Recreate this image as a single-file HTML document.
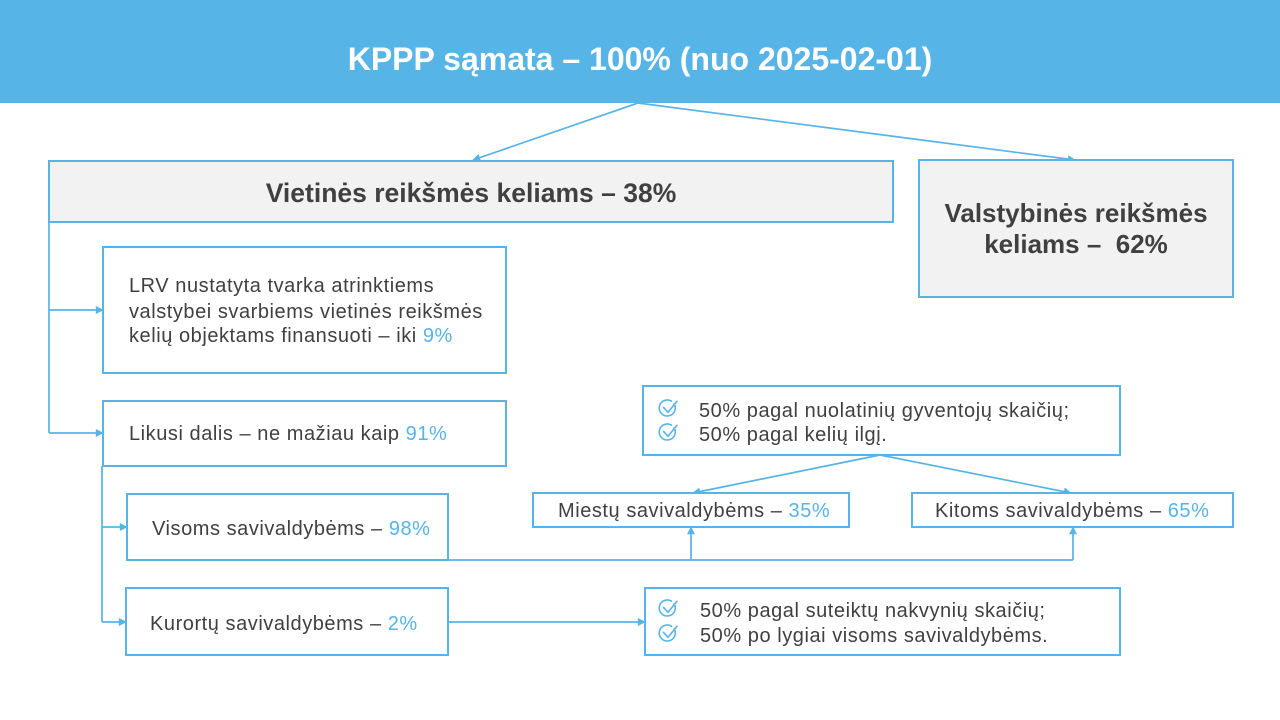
<!DOCTYPE html>
<html>
<head>
<meta charset="utf-8">
<style>
html,body{margin:0;padding:0;background:#fff;}
svg{display:block;}
.t{font-family:"Liberation Sans",Arial,sans-serif;font-size:20px;fill:#404040;letter-spacing:0.55px;}
.b{font-family:"Liberation Sans",Arial,sans-serif;font-weight:bold;fill:#404040;}
.p{fill:#56B4E6;}
</style>
</head>
<body>
<svg width="1280" height="720" viewBox="0 0 1280 720" xmlns="http://www.w3.org/2000/svg">
<defs>
<marker id="ar" viewBox="0 0 10 10" refX="9" refY="5" markerWidth="10" markerHeight="8" markerUnits="userSpaceOnUse" orient="auto">
<path d="M0,0 L10,5 L0,10 Z" fill="#56B4E6"/>
</marker>
<g id="chk" fill="none" stroke="#56B4E6" stroke-width="1.6" stroke-linecap="round" stroke-linejoin="round">
<path d="M674.2,404 A8,8 0 1 1 671.5,401.2"/>
<path d="M663.5,407.3 L668,412.3 L677,401.3"/>
</g>
</defs>
<rect x="0" y="0" width="1280" height="103" fill="#56B4E6"/>
<text x="640" y="70" text-anchor="middle" font-family="Liberation Sans, Arial, sans-serif" font-weight="bold" font-size="32" fill="#ffffff">KPPP sąmata – 100% (nuo 2025-02-01)</text>

<g fill="none" stroke="#56B4E6" stroke-width="1.7">
<line x1="638" y1="103" x2="473" y2="160" marker-end="url(#ar)"/>
<line x1="638" y1="103" x2="1075" y2="160" marker-end="url(#ar)"/>
<polyline points="49,222 49,433"/>
<line x1="49" y1="310" x2="103" y2="310" marker-end="url(#ar)"/>
<line x1="49" y1="433" x2="103" y2="433" marker-end="url(#ar)"/>
<polyline points="102,466 102,622"/>
<line x1="102" y1="527" x2="127" y2="527" marker-end="url(#ar)"/>
<line x1="102" y1="622" x2="126" y2="622" marker-end="url(#ar)"/>
<line x1="448" y1="560" x2="1073" y2="560"/>
<line x1="691" y1="560" x2="691" y2="527" marker-end="url(#ar)"/>
<line x1="1073" y1="560" x2="1073" y2="527" marker-end="url(#ar)"/>
<line x1="880" y1="455" x2="693" y2="493" marker-end="url(#ar)"/>
<line x1="880" y1="455" x2="1071" y2="493" marker-end="url(#ar)"/>
<line x1="448" y1="622" x2="645" y2="622" marker-end="url(#ar)"/>
</g>

<g stroke="#56B4E6" stroke-width="2">
<rect x="49" y="161" width="844" height="61" fill="#F2F2F2"/>
<rect x="919" y="160" width="314" height="137" fill="#F2F2F2"/>
<rect x="103" y="247" width="403" height="126" fill="#ffffff"/>
<rect x="103" y="401" width="403" height="65" fill="#ffffff"/>
<rect x="127" y="494" width="321" height="66" fill="#ffffff"/>
<rect x="126" y="588" width="322" height="67" fill="#ffffff"/>
<rect x="643" y="386" width="477" height="69" fill="#ffffff"/>
<rect x="533" y="493" width="316" height="34" fill="#ffffff"/>
<rect x="912" y="493" width="321" height="34" fill="#ffffff"/>
<rect x="645" y="588" width="475" height="67" fill="#ffffff"/>
</g>

<text class="b" x="471" y="202" text-anchor="middle" font-size="26.5">Vietinės reikšmės keliams – 38%</text>
<text class="b" x="1076" y="222" text-anchor="middle" font-size="26">Valstybinės reikšmės</text>
<text class="b" x="1076" y="253" text-anchor="middle" font-size="26" xml:space="preserve">keliams –  62%</text>

<text class="t" x="129" y="292">LRV nustatyta tvarka atrinktiems</text>
<text class="t" x="129" y="318">valstybei svarbiems vietinės reikšmės</text>
<text class="t" x="129" y="342">kelių objektams finansuoti – iki <tspan class="p">9%</tspan></text>

<text class="t" x="129" y="440">Likusi dalis – ne mažiau kaip <tspan class="p">91%</tspan></text>
<text class="t" x="152" y="535">Visoms savivaldybėms – <tspan class="p">98%</tspan></text>
<text class="t" x="150" y="630">Kurortų savivaldybėms – <tspan class="p">2%</tspan></text>

<use href="#chk"/>
<use href="#chk" transform="translate(0,24)"/>
<text class="t" x="699" y="417">50% pagal nuolatinių gyventojų skaičių;</text>
<text class="t" x="699" y="441">50% pagal kelių ilgį.</text>

<text class="t" x="558" y="517">Miestų savivaldybėms – <tspan class="p">35%</tspan></text>
<text class="t" x="935" y="517">Kitoms savivaldybėms – <tspan class="p">65%</tspan></text>

<use href="#chk" transform="translate(0,200)"/>
<use href="#chk" transform="translate(0,225)"/>
<text class="t" x="700" y="617">50% pagal suteiktų nakvynių skaičių;</text>
<text class="t" x="700" y="642">50% po lygiai visoms savivaldybėms.</text>
</svg>
</body>
</html>
